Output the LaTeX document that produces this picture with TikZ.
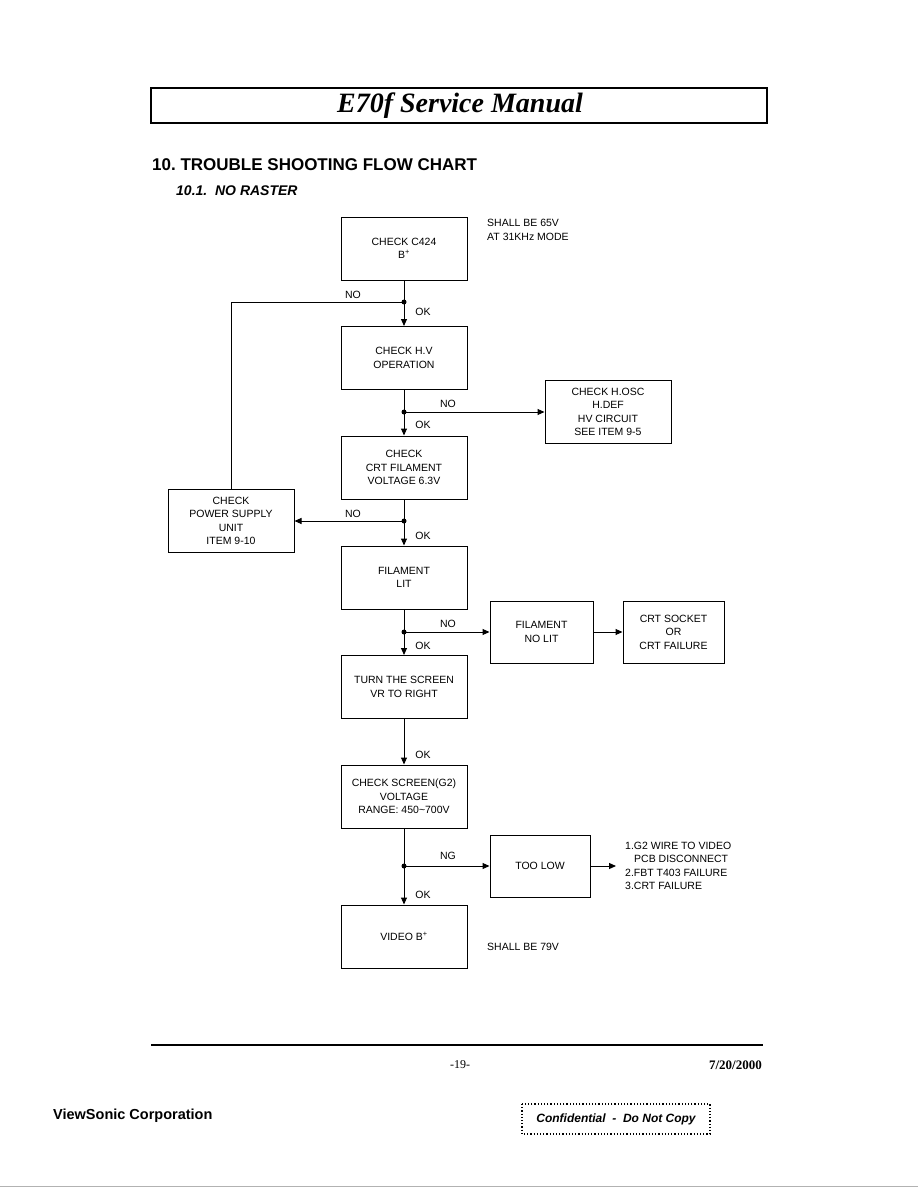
\documentclass[tikz,border=0pt]{standalone}
\usepackage{fontspec}
\setmainfont{Liberation Sans}
\newfontfamily\tnr{Liberation Serif}
\usetikzlibrary{arrows.meta}
\begin{document}
\begin{tikzpicture}[x=1pt,y=-1pt,
  box/.style={draw,line width=1pt,minimum width=126pt,minimum height=63pt,inner sep=0pt,align=center,font=\fontsize{10.5}{13.5}\selectfont},
  lbl/.style={font=\fontsize{10.5}{12}\selectfont,inner sep=0pt},
  conn/.style={line width=1pt},
  arr/.style={line width=1pt,-{Triangle[length=7pt,width=6pt]}},
  jdot/.style={circle,fill,inner sep=0pt,minimum size=5pt}]
\useasboundingbox[fill=white] (0,0) rectangle (918,1188);
% header
\node[draw,line width=1.8pt,minimum width=616pt,minimum height=35pt,inner sep=0pt] (hdr) at (459,105.5) {};
\node[font=\tnr\bfseries\itshape\fontsize{28}{30}\selectfont] (title) at (460,106) {E70f Service Manual};
\node[anchor=base west,font=\bfseries\fontsize{17}{20}\selectfont,inner sep=0pt] (sec) at (152,170) {10.\ TROUBLE SHOOTING FLOW CHART};
\node[anchor=base west,font=\bfseries\itshape\fontsize{14}{16}\selectfont,inner sep=0pt] (sub) at (176,195) {10.1.\ \ NO RASTER};
% main column
\node[box] (b1) at (404,248.5) {CHECK C424\\B\textsuperscript{+}};
\node[box] (b2) at (404,358) {CHECK H.V\\OPERATION};
\node[box] (b3) at (404,467.5) {CHECK\\CRT FILAMENT\\VOLTAGE 6.3V};
\node[box] (b4) at (404,577.5) {FILAMENT\\LIT};
\node[box] (b5) at (404,687) {TURN THE SCREEN\\VR TO RIGHT};
\node[box] (b6) at (404,796.5) {CHECK SCREEN(G2)\\VOLTAGE\\RANGE: 450\textasciitilde700V};
\node[box] (b7) at (404,936.5) {VIDEO B\textsuperscript{+}};
% side boxes
\node[box] (hosc) at (608,412) {CHECK H.OSC\\H.DEF\\HV CIRCUIT\\SEE ITEM 9-5};
\node[box] (ps) at (231,521) {CHECK\\POWER SUPPLY\\UNIT\\ITEM 9-10};
\node[box,minimum width=103pt,minimum height=62pt] (fnl) at (541.5,632) {FILAMENT\\NO LIT};
\node[box,minimum width=101pt,minimum height=62pt] (crt) at (673.5,632) {CRT SOCKET\\OR\\CRT FAILURE};
\node[box,minimum width=100pt,minimum height=62pt] (tl) at (540,866) {TOO LOW};
% notes
\node[anchor=north west,align=left,inner sep=0pt,font=\fontsize{10.5}{13.5}\selectfont] (n65) at (487,219) {SHALL BE 65V\\AT 31KHz MODE};
\node[anchor=west,inner sep=0pt,font=\fontsize{10.5}{13.5}\selectfont] (n79) at (487,947) {SHALL BE 79V};
\node[anchor=west,align=left,inner sep=0pt,font=\fontsize{10.5}{13.3}\selectfont] (fails) at (625,866) {1.G2 WIRE TO VIDEO\\\hspace*{9pt}PCB DISCONNECT\\2.FBT T403 FAILURE\\3.CRT FAILURE};
% junctions
\coordinate (j1) at (404,302);
\coordinate (j2) at (404,412);
\coordinate (j3) at (404,521);
\coordinate (j4) at (404,632);
\coordinate (j5) at (404,866);
\foreach \j in {j1,j2,j3,j4,j5} \node[jdot] at (\j) {};
% connectors
\draw[conn] (b1) -- (j1);
\draw[arr] (j1) -- (b2);
\draw[conn] (j1) -| (ps.north);
\draw[conn] (b2) -- (j2);
\draw[arr] (j2) -- (b3);
\draw[arr] (j2) -- (hosc.west);
\draw[conn] (b3) -- (j3);
\draw[arr] (j3) -- (b4);
\draw[arr] (j3) -- (ps.east);
\draw[conn] (b4) -- (j4);
\draw[arr] (j4) -- (b5);
\draw[arr] (j4) -- (fnl.west);
\draw[arr] (fnl.east) -- (crt.west);
\draw[arr] (b5) -- (b6);
\draw[conn] (b6) -- (j5);
\draw[arr] (j5) -- (b7);
\draw[arr] (j5) -- (tl.west);
\draw[arr,shorten >=9pt] (tl.east) -- (fails.west);
% labels
\node[lbl] (l1n) at (353,295) {NO};
\node[lbl] (l1o) at (423,312) {OK};
\node[lbl] (l2n) at (448,404) {NO};
\node[lbl] (l2o) at (423,425) {OK};
\node[lbl] (l3n) at (353,514) {NO};
\node[lbl] (l3o) at (423,536) {OK};
\node[lbl] (l4n) at (448,624) {NO};
\node[lbl] (l4o) at (423,646) {OK};
\node[lbl] (l5o) at (423,755) {OK};
\node[lbl] (l6n) at (448,856) {NG};
\node[lbl] (l6o) at (423,895) {OK};
% footer
\draw[line width=2.4pt] (151,1045) -- (763,1045);
\node[font=\tnr\fontsize{12}{14}\selectfont,inner sep=0pt] (pg) at (460,1065) {-19-};
\node[anchor=east,font=\tnr\bfseries\fontsize{13}{14}\selectfont,inner sep=0pt] (date) at (762,1065) {7/20/2000};
\node[anchor=west,font=\bfseries\fontsize{14.5}{16}\selectfont,inner sep=0pt] (vs) at (53,1116) {ViewSonic Corporation};
\draw[dotted,line width=1.2pt] (522,1104) rectangle (710,1134);
\node[font=\bfseries\itshape\fontsize{12}{14}\selectfont,inner sep=0pt] (conf) at (616,1119) {Confidential\ \ -\ \ Do Not Copy};
\draw[gray!60,line width=1pt] (0,1186) -- (918,1186);
\end{tikzpicture}
\end{document}
